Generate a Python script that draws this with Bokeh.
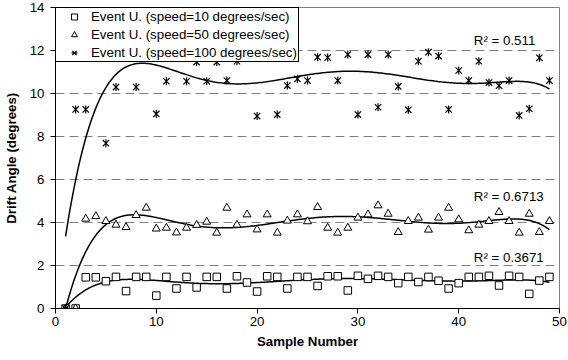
import numpy as np
from bokeh.plotting import figure
from bokeh.models import Range1d, FixedTicker, Legend, LegendItem, Label
from bokeh.embed import file_html
from bokeh.resources import INLINE

samples = list(range(1, 50))

speed10 = [0, 0, 1.45, 1.45, 1.27, 1.47, 0.81, 1.47, 1.47, 0.60,
           1.47, 0.93, 1.47, 0.98, 1.47, 1.47, 0.93, 1.50, 1.21, 0.79,
           1.50, 1.47, 0.93, 1.47, 1.47, 1.05, 1.50, 1.50, 0.84, 1.52,
           1.38, 1.52, 1.47, 1.18, 1.47, 1.23, 1.47, 1.29, 0.93, 1.18,
           1.47, 1.47, 1.52, 1.07, 1.52, 1.47, 0.68, 1.30, 1.47]

speed50 = [0, 0, 4.17, 4.29, 4.06, 3.89, 3.78, 4.34, 4.68, 3.71,
           3.75, 3.53, 3.75, 3.88, 4.03, 3.52, 4.68, 3.89, 4.37, 3.67,
           4.37, 3.52, 4.08, 4.37, 4.05, 4.71, 3.75, 3.52, 3.75, 4.22,
           4.37, 4.79, 4.40, 3.55, 4.06, 4.22, 3.66, 4.22, 4.68, 4.14,
           3.63, 3.89, 4.06, 4.48, 4.06, 3.52, 4.40, 3.55, 4.06]

speed100 = [0, 9.26, 9.26, 11.8, 7.69, 10.30, 11.8, 10.30, 11.9, 9.05,
            10.57, 11.8, 10.57, 11.46, 10.57, 11.46, 10.60, 11.50, 11.8, 8.95,
            11.8, 9.02, 10.37, 10.68, 10.60, 11.69, 11.67, 10.60, 11.81, 9.02,
            11.81, 9.36, 11.81, 10.33, 9.24, 11.50, 11.92, 11.74, 9.26, 11.07,
            10.60, 11.50, 10.51, 10.36, 10.60, 8.98, 9.29, 11.66, 10.60]

series_labels = ["Event U. (speed=10 degrees/sec)",
                 "Event U. (speed=50 degrees/sec)",
                 "Event U. (speed=100 degrees/sec)"]
r2_texts = ["R\u00b2 = 0.3671", "R\u00b2 = 0.6713", "R\u00b2 = 0.511"]
r2_y = [2.37, 5.21, 12.47]

x_ticks = [0, 10, 20, 30, 40, 50]
y_ticks = [0, 2, 4, 6, 8, 10, 12, 14]
grid_ticks = [2, 4, 6, 8, 10, 12]

FONT = "Liberation Sans"
FS = "13.3px"

p = figure(width=568, height=360, output_backend="svg", toolbar_location=None,
           x_range=Range1d(0, 50), y_range=Range1d(0, 14),
           min_border_left=55, min_border_right=9, min_border_top=7, min_border_bottom=52)
p.outline_line_color = "#808080"
p.outline_line_width = 1
p.background_fill_color = "white"
p.border_fill_color = "white"

p.xgrid.visible = False
p.ygrid.ticker = FixedTicker(ticks=grid_ticks)
p.ygrid.grid_line_color = "#808080"
p.ygrid.grid_line_dash = "9 5"
p.ygrid.grid_line_width = 1

for ax, ticks in ((p.xaxis, x_ticks), (p.yaxis, y_ticks)):
    ax.ticker = FixedTicker(ticks=ticks)
    ax.minor_tick_line_color = None
    ax.major_tick_out = 5
    ax.major_tick_in = 0
    ax.axis_line_color = "black"
    ax.major_tick_line_color = "black"
    ax.major_label_text_font = FONT
    ax.major_label_text_font_size = FS
    ax.major_label_text_color = "black"
    ax.axis_label_text_font = FONT
    ax.axis_label_text_font_size = FS
    ax.axis_label_text_font_style = "bold"
    ax.axis_label_text_color = "black"

p.xaxis.axis_label = "Sample Number"
p.yaxis.axis_label = "Drift Angle (degrees)"
p.xaxis.major_label_standoff = 3
p.xaxis.axis_label_standoff = 5
p.yaxis.major_label_standoff = 6
p.yaxis.axis_label_standoff = 8

# trend lines (6th order polynomial fits)
xs = np.linspace(1, 49, 300)
for vals in (speed10, speed50, speed100):
    coef = np.polyfit(samples, vals, 6)
    p.line(xs, np.polyval(coef, xs), line_color="black", line_width=1.5)

r_sq = p.scatter(samples, speed10, marker="square", size=7.5, fill_color="white",
                 line_color="black", line_width=1)
r_tri = p.scatter(samples, speed50, marker="triangle", size=8, fill_color="white",
                  line_color="black", line_width=1)
r_x = p.scatter(samples, speed100, marker="x", size=9, line_color="black", line_width=1.2)
r_d = p.scatter(samples, speed100, marker="dash", size=8, angle=np.pi / 2,
                line_color="black", line_width=1.2)

legend = Legend(items=[LegendItem(label=series_labels[0], renderers=[r_sq]),
                       LegendItem(label=series_labels[1], renderers=[r_tri]),
                       LegendItem(label=series_labels[2], renderers=[r_x, r_d])],
                location="top_left", margin=0, padding=1, spacing=3,
                label_height=15, glyph_height=15, glyph_width=34, label_standoff=-11,
                border_line_color="black", border_line_width=1, border_line_alpha=1.0,
                background_fill_color="white", background_fill_alpha=1,
                label_text_font=FONT, label_text_font_size=FS, label_text_color="black")
p.add_layout(legend)

for txt, yv in zip(r2_texts, r2_y):
    p.add_layout(Label(x=41.5, y=yv, text=txt, text_font=FONT, text_font_size=FS,
                       text_baseline="middle", text_align="left", text_color="black"))

open("out.html", "w").write(file_html(p, INLINE))
